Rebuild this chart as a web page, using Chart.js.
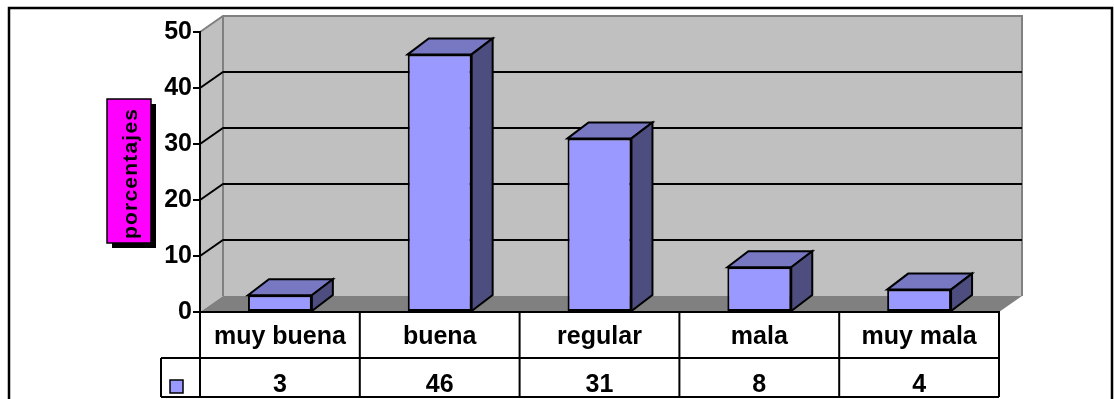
<!DOCTYPE html>
<html>
<head>
<meta charset="utf-8">
<script src="https://cdn.jsdelivr.net/npm/chart.js@4/dist/chart.umd.min.js"></script>
<style>
  html, body { margin: 0; padding: 0; background: #fff; }
  canvas { display: block; }
</style>
</head>
<body>
<canvas id="grafico" width="1114" height="399"></canvas>
<script>
let categories = ['muy buena', 'buena', 'regular', 'mala', 'muy mala']
let values = [3, 46, 31, 8, 4]
let yMax = 50
let yStep = 10
let axisTitle = 'porcentajes'

let fontFamily = '"Liberation Sans", Arial, sans-serif'

// 3D look: offset of the back wall and of each column's depth
let wallDx = 23, wallDy = 16
let barDx = 21, barDy = 16

let frontColor = '#9999FF'
let topColor = '#7777C2'
let sideColor = '#4D4D7F'

let excel3d = {
  id: 'excel3d',
  beforeDraw(chart) {
    let ctx = chart.ctx
    let a = chart.chartArea
    let y = chart.scales.y
    ctx.save()
    ctx.fillStyle = '#fff'
    ctx.fillRect(0, 0, chart.width, chart.height)

    // outer frame
    ctx.strokeStyle = '#000'
    ctx.lineWidth = 2.5
    ctx.strokeRect(9, 8, 1103, 420)

    let top = y.getPixelForValue(yMax)
    let bottom = y.getPixelForValue(0)

    // left wall
    ctx.fillStyle = '#C0C0C0'
    ctx.beginPath()
    ctx.moveTo(a.left, top)
    ctx.lineTo(a.left + wallDx, top - wallDy)
    ctx.lineTo(a.left + wallDx, bottom - wallDy)
    ctx.lineTo(a.left, bottom)
    ctx.closePath()
    ctx.fill()

    // back wall
    ctx.fillRect(a.left + wallDx, top - wallDy, a.right - a.left, bottom - top)
    ctx.strokeStyle = '#808080'
    ctx.lineWidth = 2
    ctx.beginPath()
    ctx.moveTo(a.left, top)
    ctx.lineTo(a.left + wallDx, top - wallDy)
    ctx.lineTo(a.right + wallDx, top - wallDy)
    ctx.lineTo(a.right + wallDx, bottom - wallDy)
    ctx.moveTo(a.left + wallDx, top - wallDy)
    ctx.lineTo(a.left + wallDx, bottom - wallDy)
    ctx.stroke()

    // floor
    ctx.fillStyle = '#808080'
    ctx.beginPath()
    ctx.moveTo(a.left, bottom)
    ctx.lineTo(a.left + wallDx, bottom - wallDy)
    ctx.lineTo(a.right + wallDx, bottom - wallDy)
    ctx.lineTo(a.right, bottom)
    ctx.closePath()
    ctx.fill()

    // gridlines on the walls
    ctx.strokeStyle = '#000'
    ctx.lineWidth = 2
    y.ticks.forEach((t) => {
      if (t.value <= 0 || t.value >= yMax) return
      let py = y.getPixelForValue(t.value)
      ctx.beginPath()
      ctx.moveTo(a.left, py)
      ctx.lineTo(a.left + wallDx, py - wallDy)
      ctx.lineTo(a.right + wallDx, py - wallDy)
      ctx.stroke()
    })
    ctx.restore()
  },
  afterDatasetsDraw(chart) {
    let ctx = chart.ctx
    let a = chart.chartArea
    let x = chart.scales.x
    let meta = chart.getDatasetMeta(0)
    ctx.save()
    ctx.strokeStyle = '#000'
    ctx.lineWidth = 2
    ctx.lineJoin = 'miter'

    meta.data.forEach((bar) => {
      let p = bar.getProps(['x', 'y', 'base', 'width'], true)
      let l = p.x - p.width / 2
      let r = p.x + p.width / 2
      // top face
      ctx.fillStyle = topColor
      ctx.beginPath()
      ctx.moveTo(l, p.y)
      ctx.lineTo(l + barDx, p.y - barDy)
      ctx.lineTo(r + barDx, p.y - barDy)
      ctx.lineTo(r, p.y)
      ctx.closePath()
      ctx.fill()
      ctx.stroke()
      // side face
      ctx.fillStyle = sideColor
      ctx.beginPath()
      ctx.moveTo(r, p.y)
      ctx.lineTo(r + barDx, p.y - barDy)
      ctx.lineTo(r + barDx, p.base - barDy)
      ctx.lineTo(r, p.base)
      ctx.closePath()
      ctx.fill()
      ctx.stroke()
    })

    // data table under the axis
    let half = (x.getPixelForValue(1) - x.getPixelForValue(0)) / 2
    let row1 = 358, row2 = 397, keyLeft = 161
    ctx.beginPath()
    ctx.moveTo(keyLeft, row1)
    ctx.lineTo(a.right, row1)
    ctx.moveTo(keyLeft, row2)
    ctx.lineTo(a.right, row2)
    ctx.moveTo(keyLeft, row1)
    ctx.lineTo(keyLeft, row2)
    categories.forEach((c, i) => {
      let bx = x.getPixelForValue(i) - half
      ctx.moveTo(bx, a.bottom)
      ctx.lineTo(bx, row2)
    })
    ctx.moveTo(a.right, a.bottom)
    ctx.lineTo(a.right, row2)
    ctx.stroke()

    ctx.fillStyle = '#000'
    ctx.font = 'bold 25px ' + fontFamily
    ctx.textAlign = 'center'
    ctx.textBaseline = 'alphabetic'
    values.forEach((v, i) => {
      ctx.fillText(String(v), x.getPixelForValue(i), 392)
    })

    // legend key
    ctx.fillStyle = frontColor
    ctx.fillRect(170, 380, 13, 13)
    ctx.lineWidth = 1.5
    ctx.strokeRect(170, 380, 13, 13)

    // axis title box with shadow
    ctx.fillStyle = '#000'
    ctx.fillRect(112, 104, 44, 144)
    ctx.fillStyle = '#FF00FF'
    ctx.fillRect(107, 99, 44, 144)
    ctx.lineWidth = 1.5
    ctx.strokeRect(107, 99, 44, 144)
    ctx.translate(137, 174)
    ctx.rotate(-Math.PI / 2)
    ctx.fillStyle = '#000'
    ctx.font = 'bold 21px ' + fontFamily
    ctx.letterSpacing = '1.2px'
    ctx.textAlign = 'center'
    ctx.fillText(axisTitle, 0.6, 0)
    ctx.restore()
  },
}

let tickFont = { family: fontFamily, size: 25, weight: 'bold' }

new Chart(document.getElementById('grafico'), {
  type: 'bar',
  data: {
    labels: categories,
    datasets: [{
      data: values,
      backgroundColor: frontColor,
      borderColor: '#000',
      borderWidth: 2,
      borderSkipped: false,
      categoryPercentage: 1,
      barPercentage: 0.4,
    }],
  },
  options: {
    responsive: false,
    devicePixelRatio: 1,
    animation: false,
    layout: { padding: { top: 32, right: 115, left: 0, bottom: 0 } },
    plugins: {
      legend: { display: false },
      tooltip: { enabled: false },
    },
    scales: {
      x: {
        grid: { display: false, drawTicks: false },
        border: { display: true, color: '#000', width: 2 },
        ticks: { color: '#000', font: tickFont, padding: 10, maxRotation: 0 },
        afterFit: (s) => { s.height = 87 },
      },
      y: {
        min: 0,
        max: yMax,
        ticks: { stepSize: yStep, color: '#000', font: tickFont, padding: 1 },
        grid: { drawOnChartArea: false, drawTicks: true, tickLength: 7, color: '#000', lineWidth: 2 },
        border: { display: true, color: '#000', width: 2 },
        afterFit: (s) => { s.width = 200 },
      },
    },
  },
  plugins: [excel3d],
})
</script>
</body>
</html>
